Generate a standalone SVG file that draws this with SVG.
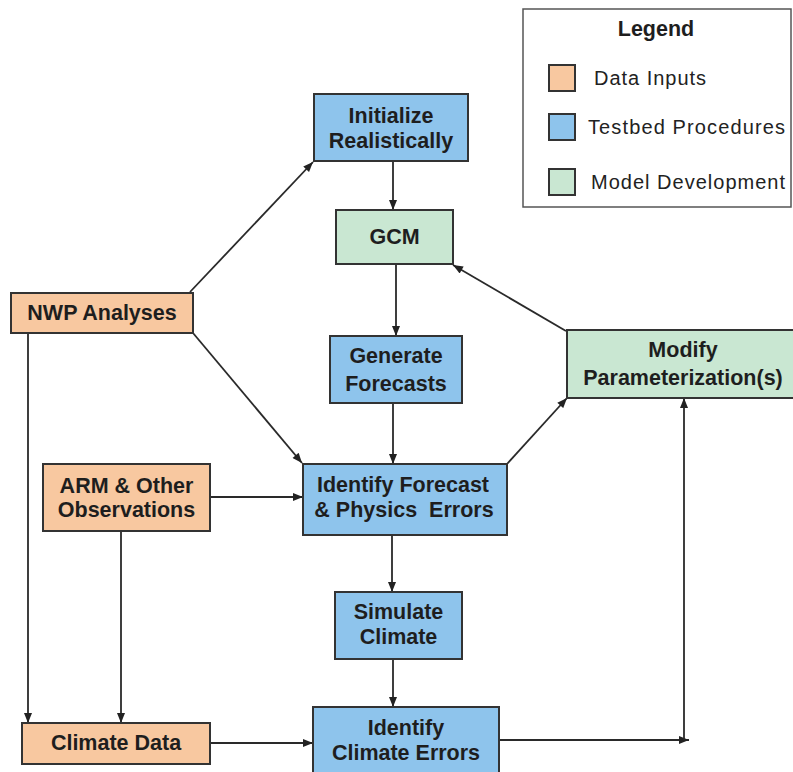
<svg xmlns="http://www.w3.org/2000/svg" width="793" height="772" viewBox="0 0 793 772">
<style>
.box{stroke:#333;stroke-width:2}
.in{fill:#F8C8A0}
.tb{fill:#8EC4EC}
.md{fill:#C9E7D2}
.t{font-family:"Liberation Sans",Arial,sans-serif;font-weight:bold;font-size:21.5px;fill:#1e1e1e;text-anchor:middle}
.lg{font-family:"Liberation Sans",Arial,sans-serif;font-size:20px;fill:#222}
.c{stroke:#2a2a2a;stroke-width:1.8;fill:none}
</style>
<defs>
<marker id="ah" viewBox="0 0 10 8" refX="10" refY="4" markerWidth="11" markerHeight="8" markerUnits="userSpaceOnUse" orient="auto">
<path d="M0,0 L10,4 L0,8 Z" fill="#222"/>
</marker>
</defs>
<rect width="793" height="772" fill="#fff"/>
<g id="legend">
<rect x="523" y="9" width="268" height="198" fill="#fff" stroke="#555" stroke-width="1.5"/>
<text x="656" y="36" class="t">Legend</text>
<rect x="549" y="65" width="26" height="26" class="box in" stroke-width="1.5"/>
<text x="594" y="85" class="lg" textLength="112">Data Inputs</text>
<rect x="549" y="114" width="26" height="26" class="box tb" stroke-width="1.5"/>
<text x="588" y="134" class="lg" textLength="197">Testbed Procedures</text>
<rect x="549" y="169" width="26" height="26" class="box md" stroke-width="1.5"/>
<text x="591" y="189" class="lg" textLength="194">Model Development</text>
</g>
<g id="connectors">
<line x1="190" y1="292" x2="313" y2="162" class="c" marker-end="url(#ah)"/>
<line x1="393" y1="161" x2="393" y2="210" class="c" marker-end="url(#ah)"/>
<line x1="396" y1="264" x2="396" y2="336" class="c" marker-end="url(#ah)"/>
<line x1="393" y1="403" x2="393" y2="464" class="c" marker-end="url(#ah)"/>
<line x1="193" y1="333" x2="302" y2="463" class="c" marker-end="url(#ah)"/>
<line x1="210" y1="497" x2="303" y2="497" class="c" marker-end="url(#ah)"/>
<line x1="507" y1="464" x2="567" y2="398" class="c" marker-end="url(#ah)"/>
<line x1="566" y1="331" x2="453" y2="265" class="c" marker-end="url(#ah)"/>
<line x1="392" y1="535" x2="392" y2="592" class="c" marker-end="url(#ah)"/>
<line x1="393" y1="659" x2="393" y2="707" class="c" marker-end="url(#ah)"/>
<line x1="28" y1="333" x2="28" y2="723" class="c" marker-end="url(#ah)"/>
<line x1="121" y1="531" x2="121" y2="723" class="c" marker-end="url(#ah)"/>
<line x1="210" y1="743" x2="313" y2="743" class="c" marker-end="url(#ah)"/>
<line x1="499" y1="740" x2="689" y2="740" class="c" marker-end="url(#ah)"/>
<line x1="684" y1="740" x2="684" y2="398" class="c" marker-end="url(#ah)"/>
</g>
<g id="initialize">
<rect x="314" y="94" width="154" height="67" class="box tb"/>
<text x="391" y="123" class="t">Initialize</text>
<text x="391" y="148" class="t">Realistically</text>
</g>
<g id="gcm">
<rect x="336" y="210" width="117" height="54" class="box md"/>
<text x="394.5" y="244" class="t">GCM</text>
</g>
<g id="nwp">
<rect x="11" y="293" width="182" height="40" class="box in"/>
<text x="102" y="320" class="t">NWP Analyses</text>
</g>
<g id="generate">
<rect x="330" y="336" width="132" height="67" class="box tb"/>
<text x="396" y="363" class="t">Generate</text>
<text x="396" y="391" class="t">Forecasts</text>
</g>
<g id="modify">
<rect x="567" y="330" width="230" height="68" class="box md"/>
<text x="683" y="357" class="t">Modify</text>
<text x="683" y="385" class="t">Parameterization(s)</text>
</g>
<g id="arm">
<rect x="43" y="464" width="167" height="67" class="box in"/>
<text x="126.5" y="493" class="t">ARM &amp; Other</text>
<text x="126.5" y="517" class="t">Observations</text>
</g>
<g id="identify-forecast">
<rect x="303" y="464" width="204" height="71" class="box tb"/>
<text x="403" y="492" class="t">Identify Forecast</text>
<text x="404" y="517" class="t" xml:space="preserve">&amp; Physics  Errors</text>
</g>
<g id="simulate">
<rect x="335" y="592" width="127" height="67" class="box tb"/>
<text x="398.5" y="619" class="t">Simulate</text>
<text x="398.5" y="644" class="t">Climate</text>
</g>
<g id="identify-climate">
<rect x="313" y="707" width="186" height="70" class="box tb"/>
<text x="406" y="735" class="t">Identify</text>
<text x="406" y="760" class="t">Climate Errors</text>
</g>
<g id="climate-data">
<rect x="22" y="723" width="188" height="41" class="box in"/>
<text x="116" y="750" class="t">Climate Data</text>
</g>
</svg>
